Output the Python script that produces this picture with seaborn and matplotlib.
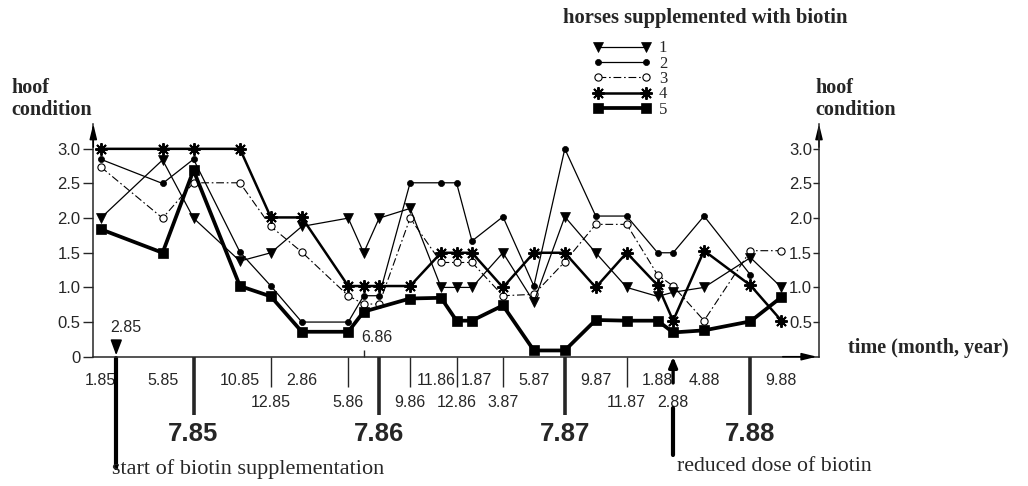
import numpy as np
import pandas as pd
import matplotlib
matplotlib.use("Agg")
import matplotlib.pyplot as plt
import matplotlib.transforms as mtrans
import seaborn as sns

# ---------------- data ----------------
months = [0, 4, 6, 9, 11, 13, 16, 17, 18, 20, 22, 23, 24, 26, 28, 30, 32, 34, 36, 37, 39, 42, 44]
horse1 = [2.0, 2.84, 2.0, 1.38, 1.5, 1.88, 2.0, 1.5, 2.0, 2.14, 1.0, 1.0, 1.0, 1.5, 0.79, 2.02, 1.5, 1.0, 0.87, 0.93, 1.0, 1.43, 1.0]
horse2 = [2.85, 2.5, 2.85, 1.51, 1.02, 0.5, 0.5, 0.88, 0.88, 2.51, 2.51, 2.51, 1.67, 2.02, 1.02, 3.0, 2.03, 2.03, 1.5, 1.5, 2.03, 1.18, np.nan]
horse3 = [2.74, 2.0, 2.51, 2.51, 1.88, 1.51, 0.88, 0.76, 0.76, 2.0, 1.36, 1.36, 1.36, 0.88, 0.9, 1.37, 1.91, 1.91, 1.18, 1.02, 0.52, 1.53, 1.53]
horse4 = [3.0, 3.0, 3.0, 3.0, 2.01, 2.01, 1.02, 1.02, 1.02, 1.02, 1.5, 1.5, 1.5, 1.0, 1.5, 1.5, 1.0, 1.5, 1.03, 0.52, 1.53, 1.03, 0.52]
horse5 = [1.84, 1.5, 2.69, 1.02, 0.87, 0.36, 0.36, 0.65, np.nan, 0.84, 0.85, 0.52, 0.52, 0.74, 0.09, 0.09, 0.53, 0.52, 0.52, 0.35, 0.38, 0.51, 0.86]
horse_names = ["1", "2", "3", "4", "5"]

row1_months = [0, 4, 9, 13, 22, 24, 28, 32, 36, 39, 44]
row1_labels = ["1.85", "5.85", "10.85", "2.86", "11.86", "1.87", "5.87", "9.87", "1.88", "4.88", "9.88"]
row2_months = [11, 16, 20, 23, 26, 34, 37]
row2_labels = ["12.85", "5.86", "9.86", "12.86", "3.87", "11.87", "2.88"]
year_months = [6, 18, 30, 42]
year_labels = ["7.85", "7.86", "7.87", "7.88"]
above_months = [17]
above_labels = ["6.86"]
start_month, start_label = 1, "2.85"
reduced_month = 37
y_ticks = [0, 0.5, 1.0, 1.5, 2.0, 2.5, 3.0]
y_labels = ["0", "0.5", "1.0", "1.5", "2.0", "2.5", "3.0"]
y_ticks_right = [0.5, 1.0, 1.5, 2.0, 2.5, 3.0]
y_labels_right = ["0.5", "1.0", "1.5", "2.0", "2.5", "3.0"]

df = pd.DataFrame({"month": months, "1": horse1, "2": horse2, "3": horse3, "4": horse4, "5": horse5})
long = df.melt(id_vars="month", var_name="horse", value_name="condition")

# ---------------- styling ----------------
sns.set_style("white")
plt.rcParams["font.family"] = ["Liberation Sans", "DejaVu Sans"]
plt.rcParams["axes.linewidth"] = 1.1

SERIF = "Liberation Serif"
W, H = 1028, 486
PX = 0.72  # points per pixel at dpi 100

fig = plt.figure(figsize=(W / 100, H / 100), dpi=100)
ax_l, ax_r, ax_b, ax_t = 93.3, 819.0, 356.7, 123.9
ax = fig.add_axes([ax_l / W, (H - ax_b) / H, (ax_r - ax_l) / W, (ax_b - ax_t) / H])
ax.set_xlim(-0.478, 46.43)
ax.set_ylim(0, 3.36)
ax_h_px = ax_b - ax_t


def shift(lbl, dx_px, dy_px=0):
    lbl.set_transform(lbl.get_transform() +
                      mtrans.ScaledTranslation(dx_px / 100, dy_px / 100, fig.dpi_scale_trans))


styles = {
    "1": dict(marker="v", markersize=7.5, markerfacecolor="k", markeredgecolor="k", markeredgewidth=0.5,
              linewidth=0.9, linestyle="-", zorder=4),
    "2": dict(marker="o", markersize=4.4, markerfacecolor="k", markeredgecolor="k", markeredgewidth=0.5,
              linewidth=0.9, linestyle="-", zorder=4),
    "3": dict(marker="o", markersize=5.2, markerfacecolor="white", markeredgecolor="k", markeredgewidth=0.8,
              linewidth=0.8, linestyle=(0, (7, 2.5, 1.5, 2.5)), zorder=3),
    "4": dict(marker=(8, 2, 0), markersize=9, markerfacecolor="k", markeredgecolor="k", markeredgewidth=1.4,
              linewidth=1.8, linestyle="-", zorder=5),
    "5": dict(marker="s", markersize=6.5, markerfacecolor="k", markeredgecolor="k", markeredgewidth=0.5,
              linewidth=2.7, linestyle="-", zorder=5),
}

handles = []
for h in horse_names:
    sub = long[long["horse"] == h].dropna()
    sns.lineplot(data=sub, x="month", y="condition", ax=ax, color="black",
                 estimator=None, sort=True, legend=False, **styles[h])
    handles.append(ax.lines[-1])

# ---------------- axes ----------------
for s in ["top", "right"]:
    ax.spines[s].set_visible(False)
ax.set_xlabel("")
ax.set_ylabel("")

ax.set_yticks(y_ticks, y_labels)
ax.tick_params(axis="y", direction="out", length=10 * PX, width=1.0, pad=3 * PX, labelsize=12)

ax.set_xticks(row1_months, row1_labels)
ax.tick_params(axis="x", direction="out", length=10 * PX, width=1.0, pad=6 * PX, labelsize=11.5)
xl = ax.get_xticklabels()
xl[0].set_bbox(dict(facecolor="white", edgecolor="none", pad=0.5))
shift(xl[row1_labels.index("11.86")], -5)
shift(xl[row1_labels.index("1.87")], 4)

# second row of dates
sec2 = ax.secondary_xaxis("bottom")
sec2.set_xticks(row2_months, row2_labels)
sec2.tick_params(axis="x", direction="out", length=30 * PX, width=1.0, pad=8 * PX, labelsize=11.5)
sec2.spines["bottom"].set_visible(False)
t288 = sec2.xaxis.get_major_ticks()[row2_months.index(reduced_month)]
t288.tick1line.set_markersize(0)

# years
sec3 = ax.secondary_xaxis("bottom")
sec3.set_xticks(year_months, year_labels)
sec3.tick_params(axis="x", direction="out", length=58 * PX, width=2.6, pad=7 * PX, labelsize=18.5)
for lbl in sec3.get_xticklabels():
    lbl.set_fontweight("bold")
sec3.spines["bottom"].set_visible(False)

# label above axis (6.86)
sec4 = ax.secondary_xaxis(0)
sec4.set_alignment("top")
sec4.set_xticks(above_months, above_labels)
sec4.tick_params(axis="x", direction="out", length=7 * PX, width=1.0, pad=5 * PX, labelsize=11.5)
for lbl in sec4.get_xticklabels():
    lbl.set_horizontalalignment("left")
    shift(lbl, -2)
for s in sec4.spines.values():
    s.set_visible(False)

# right axis
ax2 = ax.twinx()
ax2.set_ylim(ax.get_ylim())
ax2.set_yticks(y_ticks_right, y_labels_right)
ax2.tick_params(axis="y", direction="in", length=6 * PX, width=1.0, pad=-7 * PX, labelsize=12)
for lbl in ax2.get_yticklabels():
    lbl.set_horizontalalignment("right")
for s in ["top", "left", "bottom"]:
    ax2.spines[s].set_visible(False)

# axis arrows
arrow_kw = dict(arrowstyle="-|>,head_length=0.9,head_width=0.22", lw=1.1, color="k", shrinkA=0, shrinkB=0)
ax.annotate("", xy=(0, 1.0), xytext=(0, 0.9), xycoords="axes fraction", arrowprops=arrow_kw, annotation_clip=False)
ax.annotate("", xy=(1, 1.0), xytext=(1, 0.9), xycoords="axes fraction", arrowprops=arrow_kw, annotation_clip=False)
ax.annotate("", xy=(0.997, 0), xytext=(0.95, 0), xycoords="axes fraction", arrowprops=arrow_kw, annotation_clip=False)

# start of supplementation marker (2.85)
ax.annotate(start_label, xy=(start_month, 0), xycoords=("data", "axes fraction"),
            xytext=(-6 * PX, 29 * PX), textcoords="offset points", ha="left", va="center", fontsize=11.5,
            arrowprops=dict(arrowstyle="-|>,head_length=0.8,head_width=0.3", lw=1.2, color="k",
                            shrinkA=2, shrinkB=1, relpos=(0.2, 0.5)))
ax.axvline(start_month, ymin=-(468 - ax_b) / ax_h_px, ymax=-(1.0) / ax_h_px,
           color="k", lw=3.0, clip_on=False, zorder=1)

# reduced dose marker (2.88)
ax.annotate("", xy=(reduced_month, 0), xycoords=("data", "axes fraction"),
            xytext=(reduced_month, -(383 - ax_b) / ax_h_px), textcoords=("data", "axes fraction"),
            arrowprops=dict(arrowstyle="-|>,head_length=0.6,head_width=0.25", lw=2.4, color="k",
                            shrinkA=0, shrinkB=0), annotation_clip=False)
ax.axvline(reduced_month, ymin=-(455 - ax_b) / ax_h_px, ymax=-(408 - ax_b) / ax_h_px,
           color="k", lw=3.0, clip_on=False)

# ---------------- texts ----------------
lab_kw = dict(fontfamily=SERIF, fontweight="bold", fontsize=14.5)
fig.text(11.7 / W, 1 - 93.3 / H, "hoof", ha="left", va="baseline", **lab_kw)
fig.text(11.7 / W, 1 - 115 / H, "condition", ha="left", va="baseline", **lab_kw)
fig.text(815 / W, 1 - 93.3 / H, "hoof", ha="left", va="baseline", **lab_kw)
fig.text(815 / W, 1 - 115 / H, "condition", ha="left", va="baseline", **lab_kw)
fig.text(848 / W, 1 - 353 / H, "time (month, year)", ha="left", va="baseline", **lab_kw)
fig.text(563 / W, 1 - 23.5 / H, "horses supplemented with biotin", ha="left", va="baseline",
         fontfamily=SERIF, fontweight="bold", fontsize=14.9)
fig.text(112 / W, 1 - 474 / H, "start of biotin supplementation", ha="left", va="baseline",
         fontfamily=SERIF, fontsize=16)
fig.text(677 / W, 1 - 471 / H, "reduced dose of biotin", ha="left", va="baseline",
         fontfamily=SERIF, fontsize=15.7)

# legend
leg = ax.legend(handles, horse_names, loc="upper left", bbox_to_anchor=(593 / W, 1 - 40.5 / H),
                bbox_transform=fig.transFigure, frameon=False, numpoints=2, handlelength=3.5,
                handletextpad=0.45, labelspacing=-0.04, borderpad=0, borderaxespad=0,
                prop=dict(family=SERIF, size=12))

fig.savefig("out.png", dpi=100, facecolor="white")
